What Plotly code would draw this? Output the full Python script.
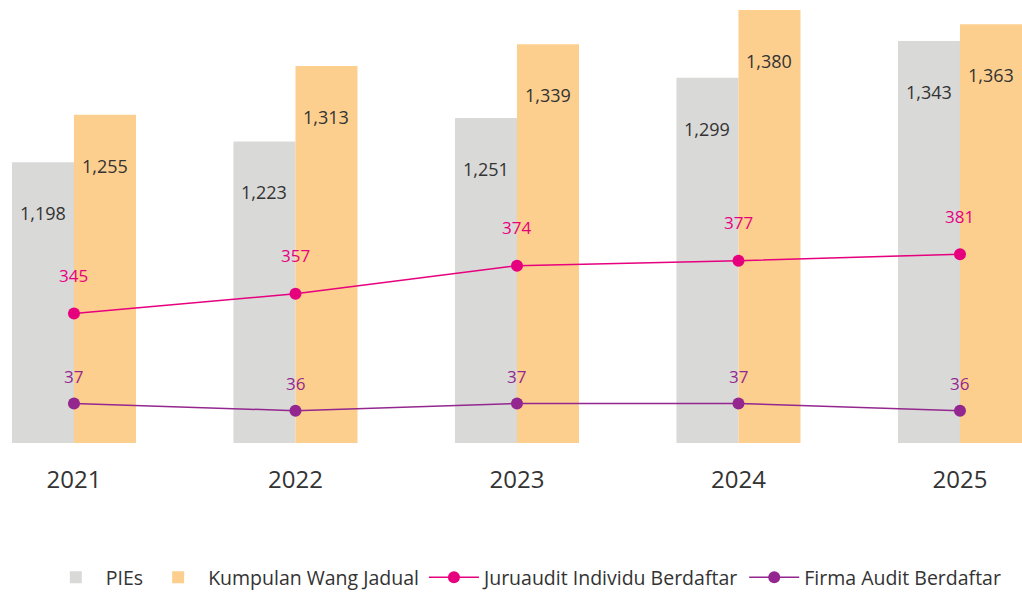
import plotly.graph_objects as go

years = ["2021", "2022", "2023", "2024", "2025"]
pies = [1198, 1223, 1251, 1299, 1343]
kumpulan = [1255, 1313, 1339, 1380, 1363]
juruaudit = [345, 357, 374, 377, 381]
firma = [37, 36, 37, 37, 36]

GRAY = "#D9D9D8"
ORANGE = "#FDCF8F"
PINK = "#E6007E"
PURPLE = "#93278F"
TXT = "#333333"
FONT = "Open Sans"

fig = go.Figure()
fig.add_trace(go.Bar(x=years, y=pies, name="PIEs", marker=dict(color=GRAY, line=dict(width=0)),
                     yaxis="y"))
fig.add_trace(go.Bar(x=years, y=kumpulan, name="Kumpulan Wang Jadual",
                     marker=dict(color=ORANGE, line=dict(width=0)), yaxis="y"))
fig.add_trace(go.Scatter(x=years, y=juruaudit, name="Juruaudit Individu Berdaftar", mode="lines+markers",
                         line=dict(color=PINK, width=1.5), marker=dict(color=PINK, size=12),
                         yaxis="y2"))
fig.add_trace(go.Scatter(x=years, y=firma, name="Firma Audit Berdaftar", mode="lines+markers",
                         line=dict(color=PURPLE, width=1.5), marker=dict(color=PURPLE, size=12),
                         yaxis="y3"))

ann = []
for i, v in enumerate(pies):
    ann.append(dict(x=i, y=v, xref="x", yref="y", xshift=-31, yshift=-51, text=f"{v:,}",
                    showarrow=False, font=dict(family=FONT, size=18, color=TXT)))
for i, v in enumerate(kumpulan):
    ann.append(dict(x=i, y=v, xref="x", yref="y", xshift=31, yshift=-51, text=f"{v:,}",
                    showarrow=False, font=dict(family=FONT, size=18, color=TXT)))
for i, v in enumerate(juruaudit):
    ann.append(dict(x=i, y=v, xref="x", yref="y2", yshift=38, text=f"{v:,}",
                    showarrow=False, font=dict(family=FONT, size=17, color=PINK)))
for i, v in enumerate(firma):
    ann.append(dict(x=i, y=v, xref="x", yref="y3", yshift=27, text=f"{v:,}",
                    showarrow=False, font=dict(family=FONT, size=17, color=PURPLE)))

hidden = dict(showgrid=False, zeroline=False, showline=False, showticklabels=False, ticks="")

fig.update_layout(
    width=1022, height=598,
    margin=dict(l=0, r=0, t=0, b=155),
    paper_bgcolor="white", plot_bgcolor="white",
    barmode="group", bargap=0.44, bargroupgap=0,
    font=dict(family=FONT, color=TXT),
    xaxis=dict(type="category", range=[-0.334, 4.28], showgrid=False, zeroline=False,
               showline=False, ticks="outside", ticklen=15, tickcolor="rgba(0,0,0,0)",
               tickfont=dict(family=FONT, size=24, color=TXT)),
    yaxis=dict(range=[862.7, 1392], **hidden),
    yaxis2=dict(range=[266.6, 535], overlaying="y", **hidden),
    yaxis3=dict(range=[31.51, 93.04], overlaying="y", **hidden),
    showlegend=True,
    legend=dict(orientation="h", x=0.515, xanchor="center", y=-0.348, yanchor="bottom",
                font=dict(family=FONT, size=19.5, color=TXT), itemwidth=50,
                traceorder="normal"),
    annotations=ann,
)

fig.write_html("out.html", config={"displayModeBar": False},
               post_script="document.body.style.margin='0px';")
